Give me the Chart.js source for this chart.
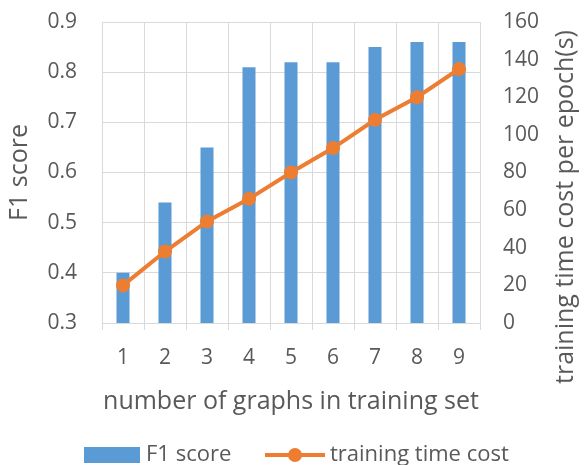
<!DOCTYPE html>
<html>

<head>
    <title>F1 score and training time</title>
    <script src="https://cdn.jsdelivr.net/npm/chart.js"></script>
    <style>
        body { margin: 0; background: #fff; }
    </style>
</head>

<body>
    <canvas id="myChart" width="585" height="465"></canvas>

    <script>
        // data
        const categories = ['1', '2', '3', '4', '5', '6', '7', '8', '9'];
        const f1Score = [0.40, 0.54, 0.65, 0.81, 0.82, 0.82, 0.85, 0.86, 0.86];
        const trainingTime = [20, 38, 54, 66, 80, 93, 108, 120, 135];
        const leftTicks = [0.3, 0.4, 0.5, 0.6, 0.7, 0.8, 0.9];
        const rightTicks = [0, 20, 40, 60, 80, 100, 120, 140, 160];

        const blue = '#5B9BD5';
        const orange = '#ED7D31';
        const textColor = '#595959';
        const gridColor = '#D9D9D9';
        const fontFamily = '"Open Sans", "Liberation Sans", sans-serif';

        // right axis title and the legend drawn by hand to keep Excel's placement
        const extras = {
            id: 'extras',
            afterDraw(chart) {
                const ctx = chart.ctx;
                ctx.save();
                ctx.fillStyle = textColor;
                ctx.font = '25px ' + fontFamily;
                ctx.textBaseline = 'middle';

                ctx.save();
                ctx.translate(566, 207);
                ctx.rotate(-Math.PI / 2);
                ctx.textAlign = 'center';
                ctx.fillText('training time cost per epoch(s)', 0, 0);
                ctx.restore();

                // legend
                ctx.font = '22px ' + fontFamily;
                ctx.fillStyle = blue;
                ctx.fillRect(84, 447, 56, 16);
                ctx.fillStyle = textColor;
                ctx.textAlign = 'left';
                ctx.fillText('F1 score', 146, 455);

                ctx.strokeStyle = orange;
                ctx.lineWidth = 4;
                ctx.beginPath();
                ctx.moveTo(265, 455);
                ctx.lineTo(325, 455);
                ctx.stroke();
                ctx.fillStyle = orange;
                ctx.beginPath();
                ctx.arc(295, 455, 7, 0, Math.PI * 2);
                ctx.fill();
                ctx.fillStyle = textColor;
                ctx.fillText('training time cost', 330, 455);
                ctx.restore();
            }
        };

        // fixed axis sizes, and no extra room above the top tick label
        const fixY = w => s => {
            s.width = w;
            s.paddingTop = 0;
            s.paddingBottom = 0;
        };

        const config = {
            type: 'bar',
            data: {
                labels: categories,
                datasets: [{
                    type: 'line',
                    label: 'training time cost',
                    data: trainingTime,
                    yAxisID: 'y1',
                    borderColor: orange,
                    backgroundColor: orange,
                    borderWidth: 4,
                    pointRadius: 7,
                    pointHoverRadius: 7,
                    pointBorderWidth: 0,
                    order: 0
                }, {
                    label: 'F1 score',
                    data: f1Score,
                    yAxisID: 'y',
                    backgroundColor: blue,
                    categoryPercentage: 1,
                    barPercentage: 0.31,
                    order: 1
                }]
            },
            options: {
                responsive: false,
                animation: false,
                layout: { padding: { top: 22, left: 0, right: 0, bottom: 42 } },
                scales: {
                    x: {
                        grid: { color: gridColor, offset: true, tickLength: 7 },
                        border: { color: gridColor },
                        ticks: { color: textColor, font: { family: fontFamily, size: 21 }, padding: 15 },
                        title: {
                            display: true,
                            text: 'number of graphs in training set',
                            color: textColor,
                            font: { family: fontFamily, size: 25 },
                            padding: { top: 0, bottom: 6 }
                        },
                        afterFit: s => { s.height = 100; }
                    },
                    y: {
                        position: 'left',
                        min: 0.3,
                        max: 0.9,
                        afterBuildTicks: s => { s.ticks = leftTicks.map(v => ({ value: v })); },
                        grid: { color: gridColor, drawTicks: false },
                        border: { display: false },
                        ticks: {
                            color: textColor,
                            font: { family: fontFamily, size: 21 },
                            padding: 25,
                            callback: v => v.toFixed(1)
                        },
                        title: {
                            display: true,
                            text: 'F1 score',
                            color: textColor,
                            font: { family: fontFamily, size: 25 },
                            padding: { top: 5, bottom: 0 }
                        },
                        afterFit: fixY(102)
                    },
                    y1: {
                        position: 'right',
                        min: 0,
                        max: 160,
                        afterBuildTicks: s => { s.ticks = rightTicks.map(v => ({ value: v })); },
                        grid: { drawOnChartArea: false, drawTicks: false },
                        border: { display: false },
                        ticks: { color: textColor, font: { family: fontFamily, size: 21 }, padding: 23 },
                        afterFit: fixY(105)
                    }
                },
                plugins: {
                    legend: { display: false },
                    tooltip: { enabled: false }
                }
            },
            plugins: [extras]
        };

        new Chart(document.getElementById('myChart'), config);
    </script>

</body>

</html>
